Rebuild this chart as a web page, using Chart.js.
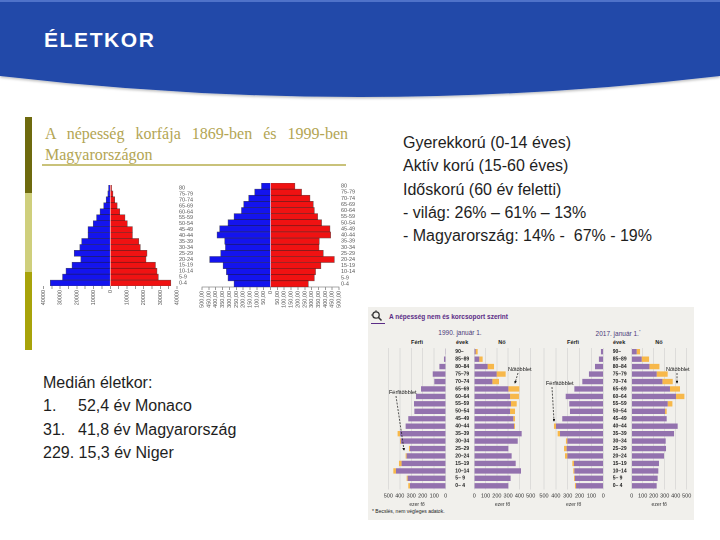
<!DOCTYPE html>
<html lang="hu">
<head>
<meta charset="utf-8">
<script src="https://cdn.jsdelivr.net/npm/chart.js@4.4.1/dist/chart.umd.min.js"></script>
<style>
  html, body { margin: 0; padding: 0; }
  body { width: 720px; height: 540px; position: relative; overflow: hidden; background: #fff;
         font-family: "Liberation Sans", Arial, sans-serif; color: #222; }
  .abs { position: absolute; }
  canvas { position: absolute; }
  .txt { font-size: 16px; line-height: 23.3px; white-space: nowrap; color: #1e1e1e; }
  .ksh { font-family: "Liberation Sans", Arial, sans-serif; white-space: nowrap; }
</style>
</head>
<body>

<!-- fejléc -->
<svg class="abs" style="left:0;top:0" width="720" height="112">
  <defs>
    <filter id="sh" x="-5%" y="-5%" width="110%" height="130%">
      <feDropShadow dx="0" dy="1.5" stdDeviation="1.2" flood-color="#000" flood-opacity="0.25"/>
    </filter>
  </defs>
  <path d="M0,0 H720 V76 Q360,118 0,76 Z" fill="#234aa9" filter="url(#sh)"/>
  <rect x="0" y="0" width="720" height="2" fill="#4f72c9"/>
</svg>
<div class="abs" style="left:44px;top:28px;font-size:21px;font-weight:bold;letter-spacing:1.6px;color:#fff;">ÉLETKOR</div>

<!-- bal oldali kép -->
<div class="abs" style="left:25px;top:117px;width:7px;height:76px;background:#6e6a0e"></div>
<div class="abs" style="left:25px;top:193px;width:7px;height:79px;background:#cfcf7c"></div>
<div class="abs" style="left:25px;top:272px;width:7px;height:78px;background:#a8a30a"></div>
<div class="abs" style="left:45px;top:123px;width:303px;font-family:'Liberation Serif','Times New Roman',serif;font-size:16px;line-height:21px;color:#b3a553;text-align:justify;text-align-last:justify;">A népesség korfája 1869-ben és 1999-ben</div>
<div class="abs" style="left:45px;top:144px;font-family:'Liberation Serif','Times New Roman',serif;font-size:16px;line-height:21px;color:#b3a553;">Magyarországon</div>
<div class="abs" style="left:42px;top:164px;width:304px;height:2px;background:#c9c27a"></div>

<canvas id="c1869"></canvas>
<canvas id="c1999"></canvas>

<!-- szöveg -->
<div class="abs txt" style="left:403px;top:131px;">
  Gyerekkorú (0-14 éves)<br>
  Aktív korú (15-60 éves)<br>
  Időskorú (60 év feletti)<br>
  - világ: 26% – 61% – 13%<br>
  - Magyarország: 14% - &nbsp;67% - 19%
</div>
<div class="abs txt" style="left:43px;top:371px;">Medián életkor:</div>
<div class="abs txt" style="left:43px;top:394.3px;">1.</div>
<div class="abs txt" style="left:78px;top:394.3px;">52,4 év Monaco</div>
<div class="abs txt" style="left:43px;top:417.6px;">31.</div>
<div class="abs txt" style="left:78px;top:417.6px;">41,8 év Magyarország</div>
<div class="abs txt" style="left:43px;top:440.9px;">229. 15,3 év Niger</div>

<!-- KSH ábra -->
<div class="abs" style="left:368px;top:307px;width:326px;height:213px;background:#f1f0ec"></div>
<svg class="abs" style="left:370px;top:309px" width="16" height="16">
  <circle cx="6" cy="6" r="3.2" fill="none" stroke="#333" stroke-width="1.3"/>
  <line x1="8.3" y1="8.3" x2="11.5" y2="11.5" stroke="#333" stroke-width="1.6"/>
  <line x1="6" y1="1" x2="6" y2="3" stroke="#333" stroke-width="0.8"/>
  <line x1="1" y1="6" x2="3" y2="6" stroke="#333" stroke-width="0.8"/>
  <line x1="1" y1="14.5" x2="15" y2="14.5" stroke="#5b2c86" stroke-width="1"/>
</svg>
<div class="abs ksh" style="left:389px;top:313px;font-size:6.5px;font-weight:bold;color:#5b2c86;">A népesség nem és korcsoport szerint</div>
<div class="abs ksh" style="left:400px;top:329px;width:120px;text-align:center;font-size:6.5px;color:#4a3a7a;">1990. január 1.</div>
<div class="abs ksh" style="left:558px;top:329px;width:120px;text-align:center;font-size:6.5px;color:#4a3a7a;">2017. január 1.<sup style="font-size:4px">*</sup></div>
<div class="abs ksh" style="left:397px;top:338.5px;width:40px;text-align:center;font-size:5.5px;font-weight:bold;">Férfi</div>
<div class="abs ksh" style="left:456px;top:338.5px;font-size:5.5px;font-weight:bold;">évek</div>
<div class="abs ksh" style="left:482px;top:338.5px;width:40px;text-align:center;font-size:5.5px;font-weight:bold;">Nő</div>
<div class="abs ksh" style="left:553px;top:338.5px;width:40px;text-align:center;font-size:5.5px;font-weight:bold;">Férfi</div>
<div class="abs ksh" style="left:613px;top:338.5px;font-size:5.5px;font-weight:bold;">évek</div>
<div class="abs ksh" style="left:639px;top:338.5px;width:40px;text-align:center;font-size:5.5px;font-weight:bold;">Nő</div>
<div class="abs ksh" style="left:372px;top:508px;font-size:5px;">* Becslés, nem végleges adatok.</div>

<canvas id="f1990"></canvas>
<canvas id="n1990"></canvas>
<canvas id="f2017"></canvas>
<canvas id="n2017"></canvas>

<!-- többlet feliratok és nyilak -->
<svg class="abs" style="left:0;top:0;pointer-events:none" width="720" height="540">
  <defs>
    <marker id="ar" markerWidth="4" markerHeight="4" refX="3" refY="2" orient="auto">
      <path d="M0,0 L4,2 L0,4 Z" fill="#111"/>
    </marker>
  </defs>
  <g font-family="Liberation Sans, Arial, sans-serif" font-size="5.5" fill="#111">
    <text x="389" y="394">Férfitöbblet</text>
    <text x="508" y="371">Nőtöbblet</text>
    <text x="546" y="385">Férfitöbblet</text>
    <text x="666" y="371">Nőtöbblet</text>
  </g>
  <g stroke="#111" stroke-width="0.7" stroke-dasharray="2,1.3" fill="none" marker-end="url(#ar)">
    <line x1="396" y1="396" x2="404" y2="450"/>
    <line x1="518" y1="373" x2="515" y2="383"/>
    <line x1="552" y1="387" x2="554" y2="421"/>
    <line x1="677" y1="373" x2="677" y2="383"/>
  </g>
</svg>

<script>
// Korfa 1869 és 1999 (bal oldali kép)
const korcsoportok = ['80', '75-79', '70-74', '65-69', '60-64', '55-59', '50-54', '45-49', '40-44',
                      '35-39', '30-34', '25-29', '20-24', '15-19', '10-14', '5-9', '0-4'];
const ferfi1869 = [1000, 1400, 2450, 3900, 6100, 8200, 10200, 13300, 13300, 17100, 18200, 21600, 17600, 22900, 26500, 28600, 35900];
const no1869    = [800, 1600, 2650, 4100, 5700, 8800, 10200, 13300, 13300, 17100, 18000, 22000, 21400, 27100, 28000, 28800, 36300];
const ferfi1999 = [66, 115, 159, 195, 212, 266, 310, 371, 390, 334, 329, 363, 444, 346, 322, 310, 266];
const no1999    = [178, 227, 288, 312, 320, 344, 373, 434, 439, 356, 354, 385, 466, 368, 329, 320, 276];

// KSH: a népesség nem és korcsoport szerint (ezer fő)
const evek = ['90–', '85–89', '80–84', '75–79', '70–74', '65–69', '60–64', '55–59', '50–54', '45–49',
              '40–44', '35–39', '30–34', '25–29', '20–24', '15–19', '10–14', '5– 9', '0– 4'];
const ferfi1990      = [4, 15, 55, 113, 99, 215, 259, 276, 273, 326, 349, 398, 390, 311, 340, 384, 433, 331, 311];
const ferfiTobb1990  = [0, 0, 0, 0, 0, 0, 0, 0, 0, 0, 0, 21, 8, 9, 9, 23, 23, 9, 15];
const no1990         = [12, 44, 118, 198, 160, 302, 317, 325, 317, 346, 352, 420, 385, 302, 331, 367, 414, 322, 302];
const noTobb1990     = [18, 30, 57, 80, 59, 97, 79, 51, 44, 15, 9, 0, 0, 0, 0, 0, 0, 0, 0];
const ferfi2017      = [20, 37, 70, 121, 177, 244, 317, 287, 281, 346, 399, 365, 303, 309, 303, 247, 244, 239, 230];
const ferfiTobb2017  = [0, 0, 0, 0, 0, 0, 0, 0, 0, 0, 17, 20, 12, 22, 20, 14, 9, 8, 9];
const no2017         = [45, 91, 161, 227, 279, 348, 403, 327, 303, 318, 418, 385, 309, 312, 294, 248, 242, 236, 227];
const noTobb2017     = [31, 67, 91, 100, 94, 91, 76, 43, 15, 0, 0, 0, 0, 0, 0, 0, 0, 0, 0];

Chart.defaults.font.family = '"Liberation Sans", Arial, sans-serif';
Chart.defaults.animation = false;

const lila = '#9372ae';
const narancs = '#f7b84b';

// fixed axis sizes so the plot areas land where they are in the picture
const fixW = w => s => { s.width = w; s.paddingLeft = s.paddingRight = s.paddingTop = s.paddingBottom = 0; };
const fixH = h => s => { s.height = h; s.paddingLeft = s.paddingRight = s.paddingTop = s.paddingBottom = 0; };

function setup(id, box, area, axes) {
  const cv = document.getElementById(id);
  cv.style.left = box.x + 'px';
  cv.style.top = box.y + 'px';
  cv.width = box.w;
  cv.height = box.h;
  return {
    left: area.l - box.x - (axes.left || 0),
    right: box.x + box.w - area.r - (axes.right || 0),
    top: area.t - box.y,
    bottom: box.y + box.h - area.b - (axes.bottom || 0)
  };
}

function korfa(id, box, area, ferfi, no, xmin, xmax, step, tickText, showBorder) {
  const pad = setup(id, box, area, {right: 22, bottom: 30});
  return new Chart(document.getElementById(id), {
    type: 'bar',
    data: {
      labels: korcsoportok,
      datasets: [
        { data: ferfi.map(v => -v), backgroundColor: '#1414ee', borderColor: 'rgba(0,0,40,0.7)', borderWidth: 0.6 },
        { data: no, backgroundColor: '#f01212', borderColor: 'rgba(50,0,0,0.7)', borderWidth: 0.6 }
      ]
    },
    options: {
      indexAxis: 'y',
      responsive: false,
      devicePixelRatio: 2,
      layout: { padding: pad },
      barPercentage: 1,
      categoryPercentage: 1,
      plugins: { legend: { display: false }, tooltip: { enabled: false } },
      scales: {
        x: {
          stacked: true, min: xmin, max: xmax,
          afterFit: fixH(30),
          border: { display: showBorder, color: '#555', width: 0.6 },
          grid: { drawOnChartArea: false, drawTicks: true, tickLength: 3, color: '#555', lineWidth: 0.6 },
          ticks: { stepSize: step, autoSkip: false, minRotation: 90, maxRotation: 90, padding: 1,
                   color: '#555', font: { size: 5.5 }, callback: tickText }
        },
        y: {
          stacked: true, position: 'right',
          afterFit: fixW(22),
          border: { display: false },
          grid: { display: false, drawTicks: false },
          ticks: { color: '#555', font: { size: 5.5 }, padding: 2, autoSkip: false }
        }
      }
    }
  });
}

korfa('c1869', {x: 38, y: 178, w: 164, h: 142}, {l: 43.5, r: 177, t: 185, b: 286},
      ferfi1869, no1869, -40000, 40000, 5000,
      v => (v % 10000 === 0 ? String(Math.abs(v)) : ''), false);

korfa('c1999', {x: 196, y: 178, w: 164, h: 142}, {l: 202, r: 339, t: 183, b: 287},
      ferfi1999, no1999, -500, 500, 50,
      v => (v === 0 ? '0' : Math.abs(v).toFixed(2).replace('.', ',')), true);

function kshFel(id, box, area, alap, tobb, ferfi) {
  const yW = ferfi ? 0 : 19;
  const pad = setup(id, box, area, {left: yW, bottom: 18});
  return new Chart(document.getElementById(id), {
    type: 'bar',
    data: {
      labels: evek,
      datasets: [
        { data: alap, backgroundColor: lila },
        { data: tobb, backgroundColor: narancs }
      ]
    },
    options: {
      indexAxis: 'y',
      responsive: false,
      devicePixelRatio: 2,
      layout: { padding: pad },
      barPercentage: 0.72,
      categoryPercentage: 1,
      plugins: { legend: { display: false }, tooltip: { enabled: false } },
      scales: {
        x: {
          stacked: true, min: 0, max: 500, reverse: ferfi,
          afterFit: fixH(18),
          border: { display: false },
          grid: { color: '#c9c9c9', lineWidth: 0.5, drawTicks: false },
          ticks: { stepSize: 100, padding: 3, autoSkip: false, minRotation: 0, maxRotation: 0,
                   color: '#333', font: { size: 5.5 } },
          title: { display: true, text: 'ezer fő', color: '#333', font: { size: 5 }, padding: 0 }
        },
        y: {
          stacked: true,
          display: !ferfi,
          afterFit: fixW(yW),
          border: { display: false },
          grid: { display: false, drawTicks: false },
          ticks: { crossAlign: 'far', color: '#222', font: { size: 5, weight: 'bold' }, autoSkip: false }
        }
      }
    }
  });
}

kshFel('f1990', {x: 380, y: 344, w: 72, h: 166}, {l: 388.3, r: 445.7, t: 348, b: 489.5}, ferfi1990, ferfiTobb1990, true);
kshFel('n1990', {x: 452, y: 344, w: 86, h: 166}, {l: 474.3, r: 530.7, t: 348, b: 489.5}, no1990, noTobb1990, false);
kshFel('f2017', {x: 537, y: 344, w: 72, h: 166}, {l: 544, r: 603.3, t: 348, b: 489.5}, ferfi2017, ferfiTobb2017, true);
kshFel('n2017', {x: 609, y: 344, w: 84, h: 166}, {l: 631.7, r: 686.7, t: 348, b: 489.5}, no2017, noTobb2017, false);
</script>
</body>
</html>
